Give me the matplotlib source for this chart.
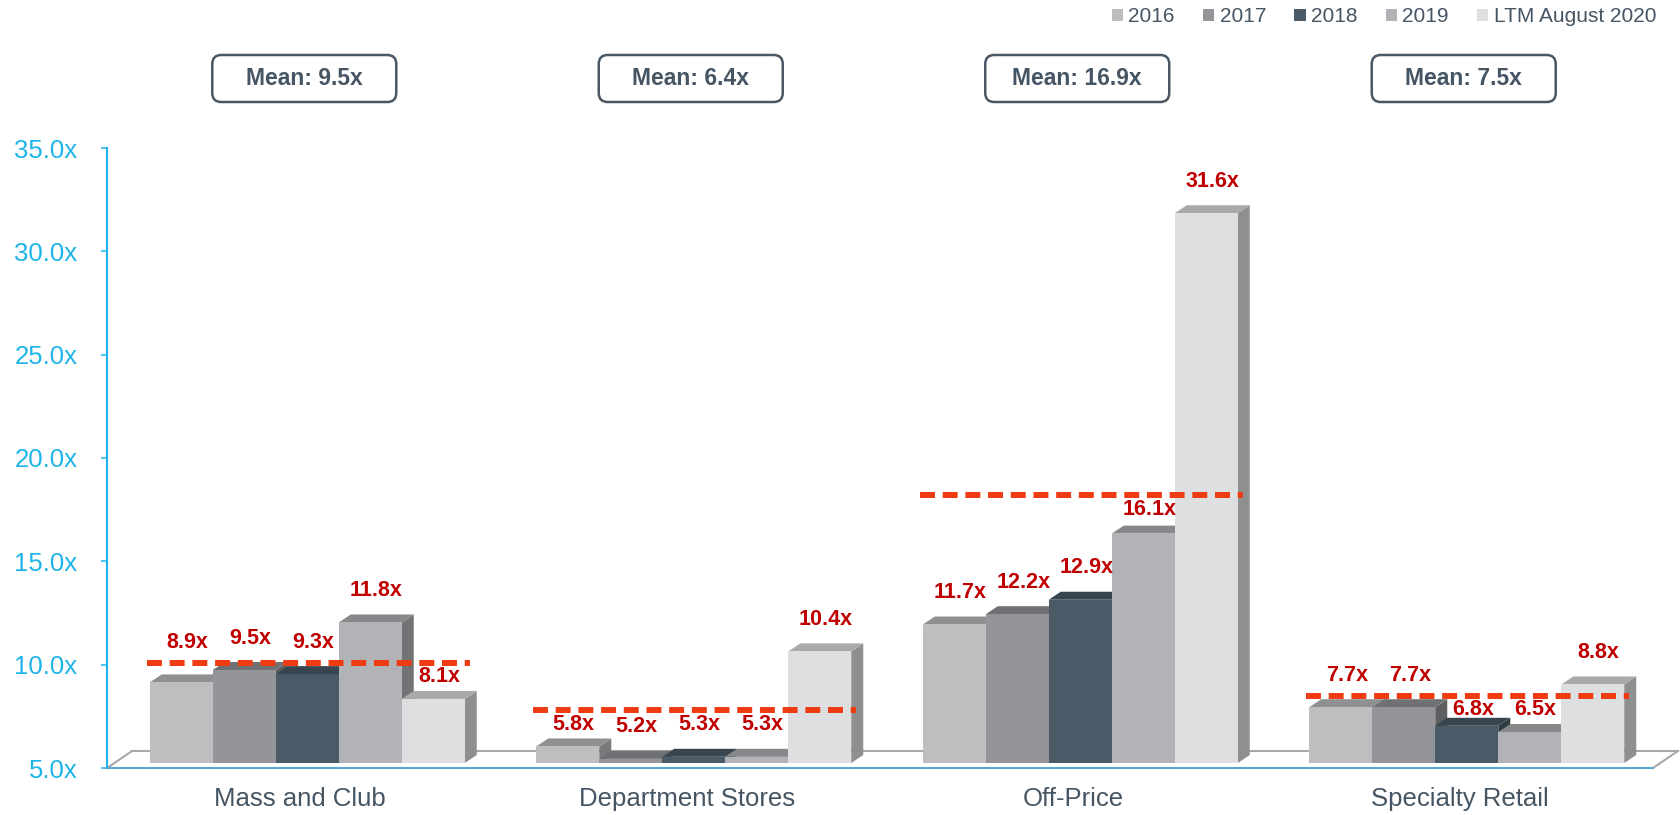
import matplotlib.pyplot as plt
import matplotlib.colors as mcolors
from matplotlib.patches import Polygon, Patch, FancyBboxPatch
from matplotlib.transforms import IdentityTransform

plt.rcParams['font.family'] = ['Liberation Sans', 'DejaVu Sans']

categories = ['Mass and Club', 'Department Stores', 'Off-Price', 'Specialty Retail']
series = ['2016', '2017', '2018', '2019', 'LTM August 2020']
v2016 = [8.9, 5.8, 11.7, 7.7]
v2017 = [9.5, 5.2, 12.2, 7.7]
v2018 = [9.3, 5.3, 12.9, 6.8]
v2019 = [11.8, 5.3, 16.1, 6.5]
v_ltm = [8.1, 10.4, 31.6, 8.8]
mean_labels = ['Mean: 9.5x', 'Mean: 6.4x', 'Mean: 16.9x', 'Mean: 7.5x']
# level at which the dashed mean lines sit in the original chart
mean_lines = [10.1, 7.8, 18.2, 8.5]
yticks = [5, 10, 15, 20, 25, 30, 35]

front_colors = ['#BCBEC0', '#939598', '#4A5A66', '#B1B3B6', '#DEDFE0']
slate = '#455563'
cyan = '#1FB4E8'
red = '#C00000'


def shade(c, f):
    r, g, b = mcolors.to_rgb(c)
    return (r * f, g * f, b * f)


W, H = 1680, 815
fig = plt.figure(figsize=(W / 100, H / 100), dpi=100)
ax = fig.add_axes([107 / W, 47 / H, 1546 / W, 620 / H])
ax.set_facecolor('none')
ax.set_xlim(-0.5, 3.5)
ax.set_ylim(5, 35)

# pixel size of one data unit, for the fake 3d offsets
p0 = ax.transData.transform((0, 5))
p1 = ax.transData.transform((1, 10))
ux = p1[0] - p0[0]
uy = (p1[1] - p0[1]) / 5.0

# floor (back edge + sides), front edge is the bottom spine
fx, fy = 25 / ux, 17 / uy
floor_c = '#A6A8AA'
ax.plot([-0.5 + fx, 3.5 + fx], [5 + fy, 5 + fy], color=floor_c, lw=1.5, clip_on=False, zorder=1)
ax.plot([-0.5, -0.5 + fx], [5, 5 + fy], color=floor_c, lw=1.5, clip_on=False, zorder=1)
ax.plot([3.5, 3.5 + fx], [5, 5 + fy], color=floor_c, lw=1.5, clip_on=False, zorder=1)

values = [v2016, v2017, v2018, v2019, v_ltm]
group_w = 0.815
bw = group_w / len(series)
sx, sy = 7 / ux, 5 / uy      # bars sit a bit back on the floor
dx, dy = 12 / ux, 8 / uy     # bar depth

z = 2.0
for g in range(len(categories)):
    line = mean_lines[g]
    for s in range(len(series)):
        v = values[s][g]
        c = front_colors[s]
        x0 = g - group_w / 2 + s * bw + sx
        x1 = x0 + bw
        b = 5 + sy
        t = v + sy
        ax.add_patch(Polygon([(x1, b), (x1 + dx, b + dy), (x1 + dx, t + dy), (x1, t)],
                             closed=True, fc=shade(c, 0.64), ec='none', zorder=z, clip_on=False))
        ax.add_patch(Polygon([(x0, t), (x1, t), (x1 + dx, t + dy), (x0 + dx, t + dy)],
                             closed=True, fc=shade(c, 0.76), ec='none', zorder=z + 0.001, clip_on=False))
        ax.bar(x0, v - 5, bottom=b, width=bw, align='edge', color=c, zorder=z + 0.002, clip_on=False)

        # value label above the bar, moved off the dashed line when they would collide
        ly = t + 30 / uy
        if abs(ly - line) < 12 / uy:
            if line - t < 27 / uy:
                ly = line + 18 / uy
            else:
                ly = line - 16 / uy
        ax.text(x0 + bw / 2 + 6 / ux, ly + 2 / uy, f'{v:.1f}x', ha='center', va='center',
                color=red, fontsize=15.5, fontweight='bold', zorder=20, clip_on=False)
        z += 0.01

for g, m in enumerate(mean_lines):
    ax.plot([g - group_w / 2 + sx - 3 / ux, g + group_w / 2 + sx + 5 / ux], [m, m],
            color='#EE3B12', lw=4.3, linestyle=(0, (2.5, 1.3)), dash_capstyle='butt',
            zorder=15, clip_on=False)

ax.spines[['top', 'right']].set_visible(False)
ax.spines['left'].set_color(cyan)
ax.spines['left'].set_linewidth(1.5)
ax.spines['bottom'].set_color('#5BA8D0')
ax.spines['bottom'].set_linewidth(1.5)
ax.set_yticks(yticks)
ax.set_yticklabels([f'{y:.1f}x' for y in yticks])
ax.tick_params(axis='y', colors=cyan, length=4.3, width=1.1, labelsize=18.5, pad=17)
ax.set_xticks(range(len(categories)))
ax.set_xticklabels(categories)
ax.tick_params(axis='x', length=0, labelsize=18.5, labelcolor=slate, pad=13.5)

# mean boxes on top
for g, lab in enumerate(mean_labels):
    cx = ax.transData.transform((g, 5))[0] + 4
    cy = H - 78.5
    fig.add_artist(FancyBboxPatch((cx - 92, cy - 23.5), 184, 47,
                                  boxstyle='round,pad=0,rounding_size=9',
                                  transform=IdentityTransform(), fc='white',
                                  ec='#4A5866', lw=1.8))
    fig.text(cx / W, cy / H, lab, ha='center', va='center', fontsize=16.5,
             fontweight='bold', color=slate)

handles = [Patch(facecolor=c, edgecolor='none') for c in front_colors]
leg = fig.legend(handles, series, loc='center right', bbox_to_anchor=(1656 / W, 1 - 17 / H),
                 ncol=5, frameon=False, fontsize=15, handlelength=0.55, handleheight=0.55,
                 handletextpad=0.25, columnspacing=1.35, borderpad=0, borderaxespad=0)
for t in leg.get_texts():
    t.set_color(slate)

fig.savefig('out.png', dpi=100)
